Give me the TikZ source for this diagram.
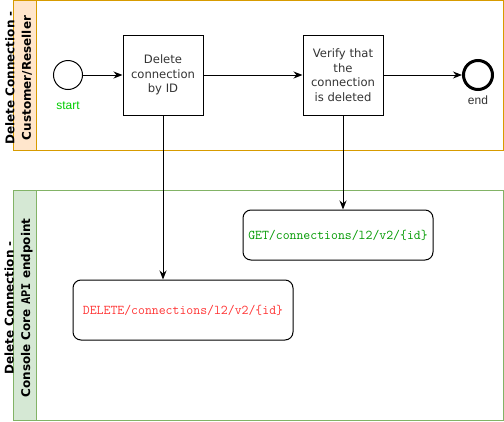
\documentclass[tikz,border=0pt]{standalone}
\usepackage{fontspec}
\setmainfont{DejaVu Sans}
\newfontfamily\labelfont{Liberation Sans}
\newfontfamily\apifont{DejaVu Sans Mono}
\usetikzlibrary{arrows.meta,calc,positioning,shapes.geometric}
\definecolor{custfill}{HTML}{FFE6CC}
\definecolor{custline}{HTML}{D79B00}
\definecolor{apifill}{HTML}{D5E8D4}
\definecolor{apiline}{HTML}{82B366}
\definecolor{textgray}{HTML}{333333}
\definecolor{startgreen}{HTML}{00CC00}
\definecolor{getgreen}{HTML}{009900}
\definecolor{delred}{HTML}{FF3333}
\tikzset{%
	pooltitle/.style = {rotate=90, align=center, font=\fontsize{12}{16.5}\selectfont\bfseries},
	event/.style     = {draw, circle, minimum size=29pt, inner sep=0pt},
	endevent/.style  = {event, line width=3pt},
	eventlbl/.style  = {font=\labelfont\fontsize{12}{14}\selectfont},
	task/.style      = {draw, rectangle, minimum width=80pt, minimum height=80pt, align=center, text=textgray, font=\fontsize{11.6}{14.5}\selectfont},
	endpoint/.style  = {draw, rectangle, rounded corners=8pt, align=center, font=\ttfamily\fontsize{13.4}{15}\selectfont},
	arrow/.style     = {-{Stealth[length=9pt,width=7pt]}},
}

\begin{document}
\begin{tikzpicture}[x=1pt, y=-1pt, line width=1pt]
	\useasboundingbox (0,0) rectangle (504,421);
	% pools
	\draw[custline] (13,0.5) rectangle (503,150);
	\draw[custline, fill=custfill] (13,0.5) rectangle (36,150);
	\node[pooltitle] (custtitle) at (18.5,78) {Delete Connection -\\Customer/Reseller};
	\draw[apiline] (13,190) rectangle (503,420);
	\draw[apiline, fill=apifill] (13,190) rectangle (36,420);
	\node[pooltitle] (apititle) at (18.5,308) {Delete Connection -\\Console Core {\apifont\bfseries API} endpoint};
	
	\node[event] (start) at (68,75) {};
	\node[eventlbl, text=startgreen] (startlbl) at (68,105.5) {start};
	\node[task] (delete) at (163,75) {Delete\\connection\\by ID};
	\node[task] (verify) at (343,75) {Verify that\\the\\connection\\is deleted};
	\node[endevent] (finish) at (478,75) {};
	\node[eventlbl, text=textgray] (finishlbl) at (478,100.5) {end};
	
	\node[endpoint, minimum width=190pt, minimum height=50pt, text=getgreen] (getcall) at (338,235) {GET/connections/l2/v2/\{id\}};
	\node[endpoint, minimum width=220pt, minimum height=60pt, text=delred] (delcall) at (183,310) {DELETE/connections/l2/v2/\{id\}};
	
	\draw[arrow] (start) -- (delete);
	\draw[arrow] (delete) -- (verify);
	\draw[arrow] (verify) -- (finish);
	\draw[arrow] (delete.south) -- (delete.south |- delcall.north);
	\draw[arrow] (verify.south) -- (verify.south |- getcall.north);
\end{tikzpicture}
\end{document}
